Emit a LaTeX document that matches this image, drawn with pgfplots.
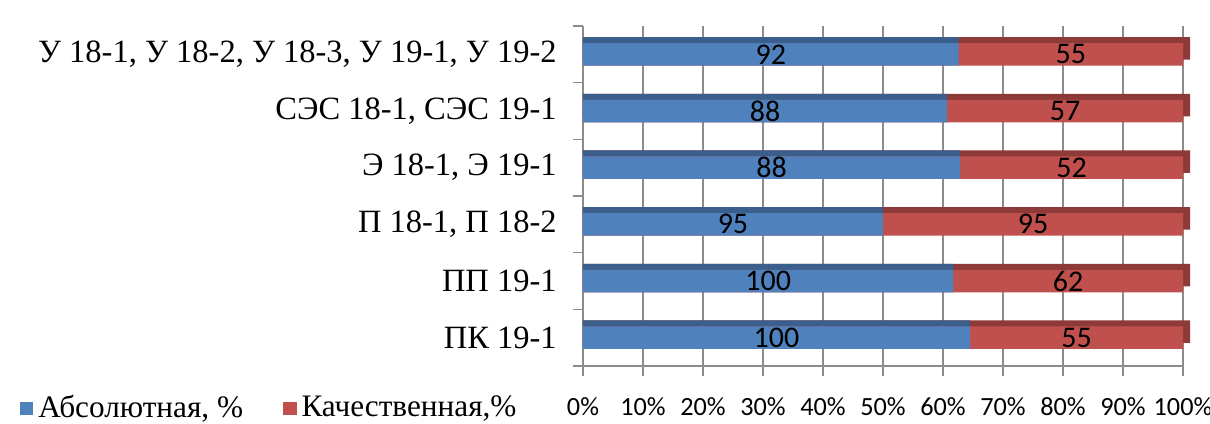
\documentclass[border=0pt]{standalone}
\usepackage{fontspec}
\setmainfont{Liberation Serif}
\newfontfamily\calibri{Carlito}
\usepackage{pgfplots}
\pgfplotsset{compat=1.18}
\usepackage{pgfplotstable}
\definecolor{absC}{HTML}{4F81BD}
\definecolor{absD}{HTML}{3A5F8C}
\definecolor{qualC}{HTML}{C0504D}
\definecolor{qualD}{HTML}{8E3A38}
\definecolor{gridC}{HTML}{8C8C8C}

% pos: 0 = bottom row
\pgfplotstableread{
pos abs qual
0 100 55
1 100 62
2 95 95
3 88 52
4 88 57
5 92 55
}\data

\begin{document}
\begin{tikzpicture}
\useasboundingbox (-233.2pt,-22.8pt) rectangle (250.8pt,146.4pt);
\begin{axis}[
  at={(0pt,0pt)}, anchor=south west,
  width=240pt, height=136pt, scale only axis,
  xmin=0, xmax=100, ymin=-0.5, ymax=5.5,
  clip=false,
  bar width=9pt,
  mybar/.style={xbar, bar shift=0pt, draw=none},
  axis x line*=bottom, axis y line*=left,
  axis line style={gridC, line width=0.6pt, -},
  xtick={0,10,...,100},
  xticklabel={\pgfmathprintnumber{\tick}\%},
  xticklabel style={font=\calibri\fontsize{10.5}{12}\selectfont, yshift=-5pt},
  /pgf/number format/assume math mode=true,
  xmajorgrids, grid style={gridC, line width=0.6pt},
  tick style={gridC, line width=0.6pt},
  tick align=outside, major tick length=4pt,
  ytick={-0.5,0.5,...,5.5}, yticklabels={{},{},{},{},{},{},{}},
  extra y ticks={0,1,2,3,4,5},
  extra y tick labels={ПК 19-1, ПП 19-1, {П 18-1, П 18-2}, {Э 18-1, Э 19-1}, {СЭС 18-1, СЭС 19-1}, {У 18-1, У 18-2, У 18-3, У 19-1, У 19-2}},
  extra y tick style={major tick length=0pt},
  yticklabel style={font=\fontsize{13}{14}\selectfont, xshift=-7pt},
  legend style={at={(-0.952,-0.124)}, anchor=west, draw=none, fill=none,
    legend columns=2, font=\fontsize{12.5}{14}\selectfont,
    /tikz/every even column/.append style={column sep=14pt}},
  legend image code/.code={\fill[#1] (0pt,-2.8pt) rectangle (5.4pt,2.6pt);},
]
% top / side faces
\addplot[mybar, fill=qualD, bar shift=2.4pt, forget plot] table[x expr=101.2, y=pos]{\data};
\addplot[mybar, fill=absD, bar shift=2.4pt, forget plot] table[x expr={100*\thisrow{abs}/(\thisrow{abs}+\thisrow{qual})}, y=pos]{\data};
% front faces
\addplot[mybar, fill=qualC, forget plot] table[x expr=100, y=pos]{\data};
\addplot[mybar, fill=absC, forget plot] table[x expr={100*\thisrow{abs}/(\thisrow{abs}+\thisrow{qual})}, y=pos]{\data};
% value labels
\addplot[sharp plot, draw=none, forget plot, nodes near coords, point meta=explicit symbolic,
  every node near coord/.append style={anchor=center, text=black, font=\calibri\fontsize{12}{12}\selectfont}]
  table[x expr={50*\thisrow{abs}/(\thisrow{abs}+\thisrow{qual})}, y=pos, meta=abs]{\data};
\addplot[sharp plot, draw=none, forget plot, nodes near coords, point meta=explicit symbolic,
  every node near coord/.append style={anchor=center, text=black, font=\calibri\fontsize{12}{12}\selectfont}]
  table[x expr={50+50*\thisrow{abs}/(\thisrow{abs}+\thisrow{qual})}, y=pos, meta=qual]{\data};
\addlegendimage{fill=absC, draw=none}
\addlegendentry{Абсолютная, \%}
\addlegendimage{fill=qualC, draw=none}
\addlegendentry{Качественная,\%}
\end{axis}
\end{tikzpicture}
\end{document}
